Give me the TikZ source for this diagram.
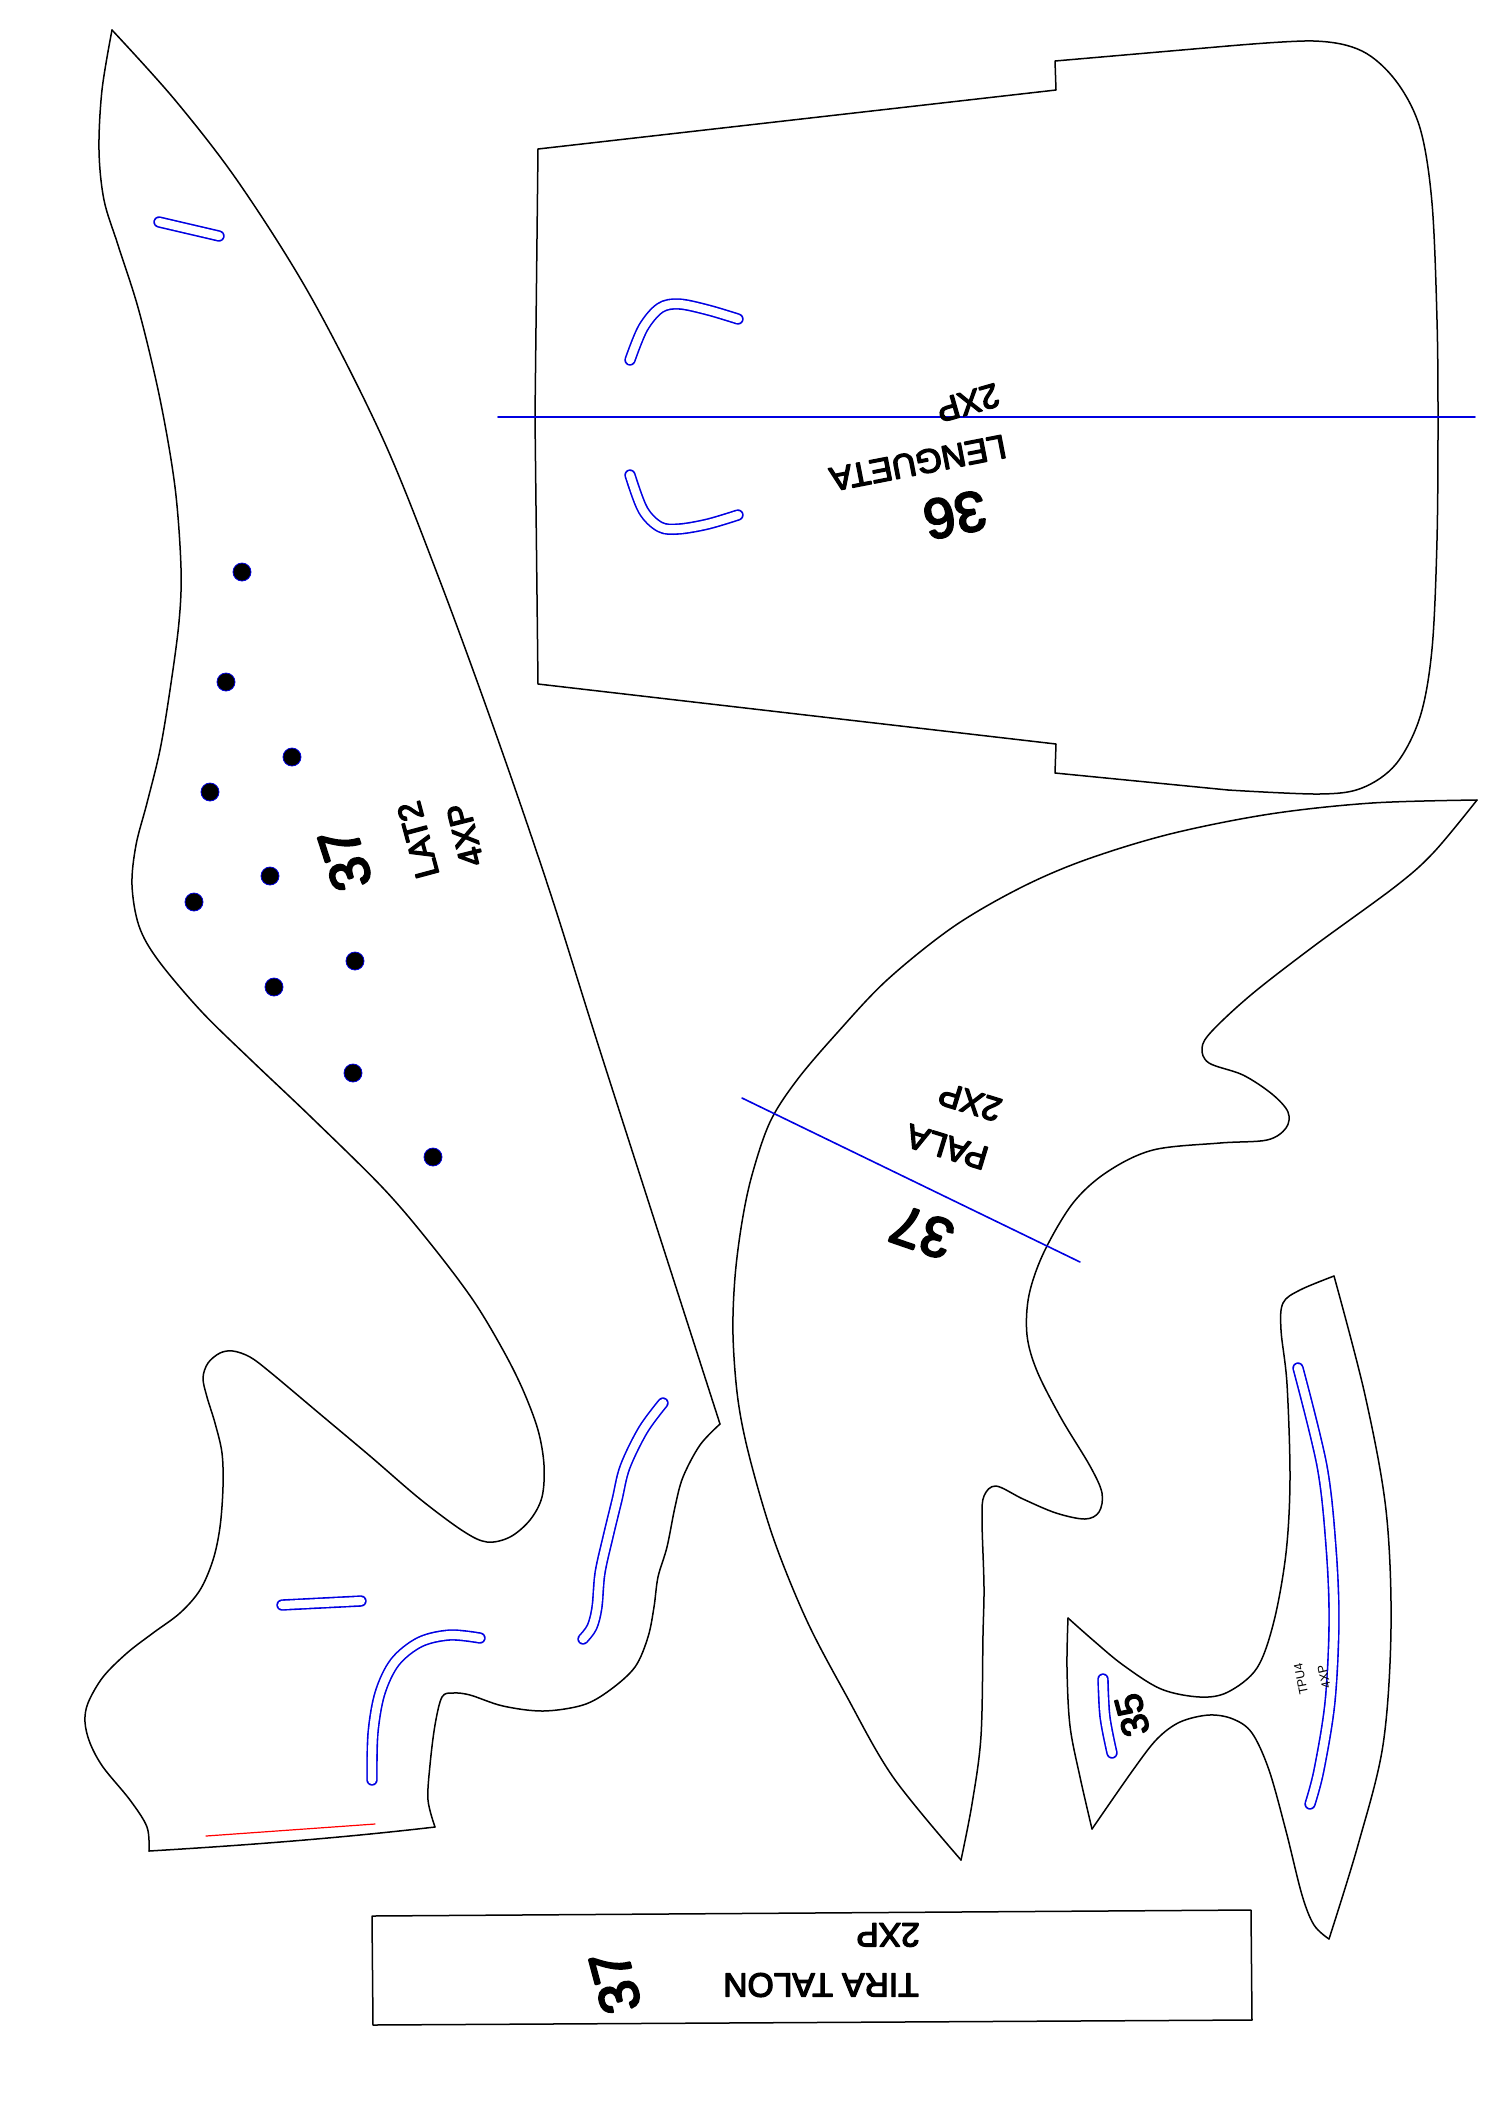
\documentclass[tikz,border=0pt]{standalone}
\usepackage{fontspec}
\setmainfont{Liberation Sans}
\newfontfamily\heavyfont{Liberation Sans}[FakeBold=4]
\definecolor{slotblue}{RGB}{0,0,225}
\begin{document}
\begin{tikzpicture}[x=0.5pt,y=-0.5pt,line cap=round,line join=round,
    cut/.style={draw=black,line width=0.75pt},
    slot/.style={draw=slotblue,line width=0.8pt,double=white,double distance=4.1pt},
    mark line/.style={draw=slotblue,line width=0.8pt},
    num/.style={inner sep=0pt,font=\heavyfont\fontsize{28}{30}\selectfont},
    lbl/.style={inner sep=0pt,font=\heavyfont\fontsize{16.8}{18}\selectfont},
    small lbl/.style={inner sep=0pt,font=\fontsize{6.2}{7}\selectfont}]
    \useasboundingbox (0,0) rectangle (1500,2122);

    \draw[cut] plot[smooth,tension=0.55] coordinates {(112,30) (175,100) (239,183) (311,297) (383,439) (440,581) (497,737) (550,892) (603,1060) (720,1424)};
    \draw[cut] plot[smooth,tension=0.55] coordinates {(720,1424) (700,1445) (683,1477) (675,1507) (667,1547) (658,1577) (654,1607) (648,1637) (635,1667) (610,1690) (583,1705) (543,1711) (503,1706) (470,1695) (453,1693) (442,1697) (435,1725) (430,1765) (428,1800) (435,1827)};
    \draw[cut] (435,1827) .. controls (340,1838) and (250,1845) .. (149,1851);
    \draw[cut] plot[smooth,tension=0.55] coordinates {(149,1851) (147,1827) (130,1800) (103,1767) (90,1743) (85,1722) (88,1703) (103,1677) (127,1653) (153,1633) (180,1613) (200,1590) (213,1560) (220,1527) (223,1487) (222,1453) (215,1423) (207,1397) (203,1378) (208,1363) (220,1353) (233,1351) (250,1357) (270,1372) (320,1414) (370,1456) (420,1499) (463,1531) (487,1542) (510,1537) (530,1520) (542,1497) (544,1465) (538,1430) (523,1390) (503,1350) (473,1300) (430,1243) (383,1188) (311,1117) (251,1060) (201,1011) (158,960) (139,926) (132,885) (136,845) (147,803) (160,750) (170,690) (179,622) (181,568) (175,487) (160,399) (139,311) (118,245) (104,200) (99,150) (102,90) (112,30)};

    \draw[slot] (159,222) -- (219,236);
    \draw[slot] (282,1605) -- (361,1601);
    \draw[slot] plot[smooth,tension=0.55] coordinates {(372,1780) (373,1733) (380,1693) (395,1662) (420,1642) (450,1635) (480,1638)};
    \draw[slot] plot[smooth,tension=0.55] coordinates {(663,1403) (643,1430) (625,1467) (617,1500) (608,1537) (600,1573) (597,1607) (592,1627) (583,1639)};
    \draw[draw=red,line width=0.6pt] (206,1836) -- (375,1824);

    \foreach \hx/\hy in {242/572,226/682,292/757,210/792,270/876,194/902,355/961,274/987,353/1073,433/1157}
        \filldraw[draw=slotblue,fill=black,line width=0.4pt] (\hx,\hy) circle[radius=9];

    \node[num,rotate=108] (latnum) at (345,859) {37};
    \node[lbl,rotate=105] (latname) at (418,840) {LAT2};
    \node[lbl,rotate=104] (latqty) at (465,835) {4XP};

    \draw[cut] (538,149) -- (1056,90) -- (1055,61) -- (1228,46);
    \draw[cut] plot[smooth,tension=0.55] coordinates {(1228,46) (1314,41) (1362,51) (1396,81) (1420,128) (1432,203) (1437,320) (1438,420) (1437,540) (1432,649) (1420,717) (1396,764) (1362,788) (1319,794) (1228,790)};
    \draw[cut] (1228,790) -- (1055,773) -- (1056,744) -- (538,684) -- (535,417) -- (538,149);
    \draw[mark line] (498,417) -- (1475,417);
    \draw[slot] plot[smooth,tension=0.55] coordinates {(630,360) (643,328) (660,308) (679,304) (708,310) (738,319)};
    \draw[slot] plot[smooth,tension=0.55] coordinates {(630,475) (643,510) (660,527) (679,529) (708,524) (738,515)};
    \node[num,rotate=191] (lennum) at (955,515) {36};
    \node[lbl,rotate=191] (lenname) at (918,463) {LENGUETA};
    \node[lbl,rotate=196] (lenqty) at (968,403) {2XP};

    \draw[cut] plot[smooth,tension=0.55] coordinates {(1477,800) (1372,803) (1270,814) (1170,834) (1085,860) (1020,888) (953,927) (887,980) (837,1033) (797,1080) (770,1122) (752,1175) (742,1222) (735,1277) (733,1335) (738,1400) (750,1459) (774,1540) (807,1621) (846,1695) (893,1777) (961,1860)};
    \draw[cut] plot[smooth,tension=0.55] coordinates {(961,1860) (972,1804) (981,1736) (983,1635) (984,1587) (982,1520) (984,1496) (996,1486) (1023,1499) (1056,1513) (1085,1519) (1099,1512) (1102,1493) (1090,1466) (1061,1418) (1037,1371) (1027,1335) (1029,1295) (1044,1252) (1073,1203) (1107,1172) (1153,1150) (1220,1143) (1267,1140) (1286,1128) (1288,1112) (1272,1094) (1243,1075) (1209,1063) (1202,1048) (1212,1031) (1252,994) (1314,946) (1396,886) (1434,852) (1477,800)};
    \draw[mark line] (742,1098) -- (1080,1262);
    \node[num,rotate=161] (palnum) at (922,1232) {37};
    \node[lbl,rotate=163] (palname) at (947,1147) {PALA};
    \node[lbl,rotate=163] (palqty) at (970,1102) {2XP};

    \draw[cut] plot[smooth,tension=0.55] coordinates {(1334,1276) (1365,1395) (1386,1510) (1391,1628) (1383,1745) (1358,1845) (1329,1939)};
    \draw[cut] plot[smooth,tension=0.55] coordinates {(1329,1939) (1314,1925) (1302,1895) (1286,1831) (1269,1770) (1252,1733) (1233,1719) (1209,1715) (1180,1722) (1157,1739) (1133,1770) (1092,1829)};
    \draw[cut] plot[smooth,tension=0.55] coordinates {(1092,1829) (1080,1777) (1070,1726) (1067,1668) (1068,1618)};
    \draw[cut] plot[smooth,tension=0.55] coordinates {(1068,1618) (1094,1641) (1123,1665) (1161,1689) (1200,1697) (1228,1692) (1257,1668) (1274,1621) (1286,1553) (1290,1479) (1287,1384) (1281,1330) (1283,1303) (1300,1290) (1334,1276)};
    \draw[slot] plot[smooth,tension=0.55] coordinates {(1298,1368) (1322,1466) (1331,1547) (1334,1621) (1330,1702) (1319,1770) (1310,1804)};
    \draw[slot] plot[smooth,tension=0.55] coordinates {(1103,1679) (1105,1717) (1112,1753)};
    \node[inner sep=0pt,font=\heavyfont\fontsize{19}{20}\selectfont,rotate=105] (tpunum) at (1132,1715) {35};
    \node[small lbl,rotate=101] (tpuname) at (1301,1679) {TPU4};
    \node[small lbl,rotate=103] (tpuqty) at (1324,1677) {4XP};

    \draw[cut] (372,1916) -- (1251,1910) -- (1252,2020) -- (373,2025) -- cycle;
    \node[num,rotate=105] (tirnum) at (615,1982) {37};
    \node[lbl,rotate=180] (tirname) at (821,1985) {TIRA TALON};
    \node[lbl,rotate=180] (tirqty) at (888,1935) {2XP};
\end{tikzpicture}
\end{document}
